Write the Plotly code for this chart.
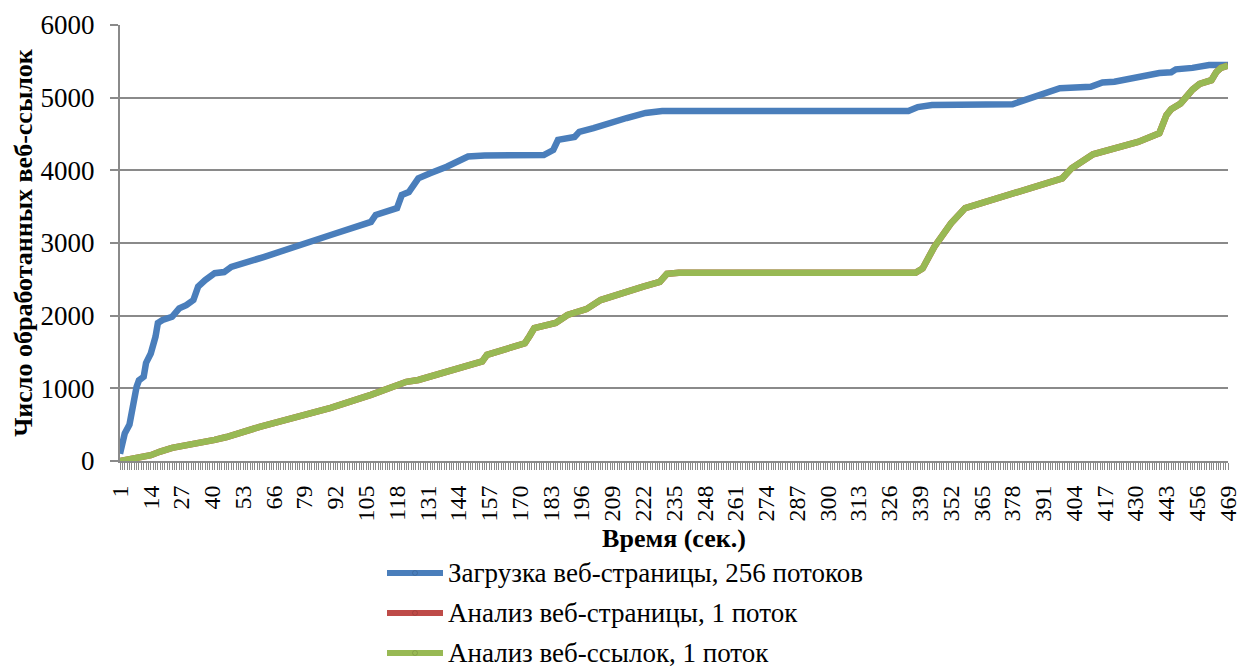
import plotly.graph_objects as go

# Time (s) at which each breakpoint of the curve occurs, and the cumulative
# number of processed web links at that time.
download_t = [1, 3, 5, 6, 8, 9, 11, 12, 14, 16, 17, 19, 23, 26, 29, 32, 34, 37, 41, 45,
              48, 62, 76, 90, 107, 109, 118, 120, 123, 127, 132, 139, 148, 155, 180, 184,
              186, 193, 195, 201, 215, 223, 230, 334, 338, 344, 378, 387, 398, 411, 416,
              421, 424, 432, 440, 445, 447, 454, 461, 469]
download_v = [100, 380, 500, 700, 1020, 1110, 1160, 1350, 1480, 1710, 1900, 1940, 1985,
              2100, 2145, 2215, 2400, 2490, 2585, 2600, 2670, 2810, 2950, 3110, 3290, 3385,
              3480, 3660, 3700, 3890, 3960, 4050, 4190, 4205, 4210, 4280, 4420, 4460, 4530,
              4580, 4720, 4790, 4815, 4815, 4870, 4900, 4910, 5010, 5130, 5150, 5210, 5220,
              5240, 5280, 5340, 5350, 5390, 5410, 5450, 5450]

links_t = [1, 14, 18, 23, 41, 46, 60, 90, 107, 114, 122, 127, 152, 154, 156, 165, 172,
           174, 176, 185, 189, 190, 198, 204, 222, 229, 232, 237, 337, 340, 345, 352, 358,
           376, 378, 399, 403, 410, 412, 431, 435, 440, 443, 445, 449, 452, 454, 457, 462,
           464, 466, 469]
links_v = [0, 80, 130, 180, 290, 330, 470, 730, 910, 1000, 1090, 1115, 1350, 1370, 1460,
           1550, 1620, 1720, 1830, 1900, 1985, 2010, 2090, 2215, 2400, 2465, 2575, 2590,
           2590, 2650, 2950, 3270, 3480, 3660, 3700, 3890, 4030, 4180, 4220, 4390, 4450,
           4510, 4760, 4840, 4920, 5040, 5110, 5190, 5240, 5350, 5410, 5440]

# Page analysis runs in lockstep with link analysis, so its curve coincides.
pages_t = list(links_t)
pages_v = list(links_v)

series_names = ["Загрузка веб-страницы, 256 потоков",
                "Анализ веб-страницы, 1 поток",
                "Анализ веб-ссылок, 1 поток"]
series_colors = ["#4A7EBB", "#BE4B48", "#98B954"]

y_ticks = [0, 1000, 2000, 3000, 4000, 5000, 6000]
x_first, x_last, x_step = 1, 469, 13

FONT = "Liberation Serif"
GRID = "#8A8A8A"

fig = go.Figure()
for t, v, name, color in [(download_t, download_v, series_names[0], series_colors[0]),
                          (pages_t, pages_v, series_names[1], series_colors[1]),
                          (links_t, links_v, series_names[2], series_colors[2])]:
    fig.add_trace(go.Scatter(x=t, y=v, mode="lines", name=name,
                             line=dict(color=color, width=6.5), showlegend=False))

# Legend drawn below the x-axis title: a short line sample with a dot, then the label.
PLOT_L, PLOT_W, PLOT_B, PLOT_H = 120, 1108, 461, 436
legend_rows_px = [573, 613, 653]
x0 = (387 - PLOT_L) / PLOT_W
x1 = (443 - PLOT_L) / PLOT_W
xm = (x0 + x1) / 2
for row_px, name, color in zip(legend_rows_px, series_names, series_colors):
    row = (PLOT_B - row_px) / PLOT_H
    fig.add_shape(type="line", xref="paper", yref="paper", x0=x0, x1=x1, y0=row, y1=row,
                  line=dict(color=color, width=6))
    fig.add_shape(type="circle", xref="paper", yref="paper",
                  xsizemode="pixel", ysizemode="pixel", xanchor=xm, yanchor=row,
                  x0=-2.5, x1=2.5, y0=-2.5, y1=2.5,
                  fillcolor=color, line=dict(color="rgba(0,0,0,0.2)", width=0.6))
    fig.add_annotation(xref="paper", yref="paper", x=(446 - PLOT_L) / PLOT_W, y=row,
                       xanchor="left", yanchor="middle", showarrow=False, text=name,
                       font=dict(family=FONT, size=27, color="black"))

fig.update_layout(
    width=1243, height=668,
    margin=dict(l=PLOT_L, r=1243 - PLOT_L - PLOT_W, t=25, b=207),
    paper_bgcolor="white", plot_bgcolor="white",
    showlegend=False,
    font=dict(family=FONT, color="black"),
    xaxis=dict(
        range=[x_first, x_last], tickmode="linear", tick0=x_first, dtick=x_step,
        tickangle=-90, tickfont=dict(family=FONT, size=24),
        ticks="outside", ticklen=7, tickcolor=GRID, tickwidth=1,
        minor=dict(tickmode="linear", tick0=x_first, dtick=1, ticks="outside",
                   ticklen=7, tickcolor=GRID, tickwidth=1),
        showgrid=False, zeroline=False, showline=True, linecolor=GRID, linewidth=2,
        ticklabelstandoff=6, ticklabeloverflow="allow", automargin=False,
        title=dict(text="<b>Время (сек.)</b>", font=dict(family=FONT, size=26), standoff=8),
    ),
    yaxis=dict(
        range=[0, 6000], tickvals=y_ticks, tickfont=dict(family=FONT, size=27),
        ticks="outside", ticklen=8, tickcolor=GRID, tickwidth=2,
        showgrid=True, gridcolor=GRID, gridwidth=2, zeroline=False,
        showline=True, linecolor=GRID, linewidth=2, ticklabelstandoff=10,
        automargin=False,
        title=dict(text="<b>Число обработанных веб-ссылок</b>",
                   font=dict(family=FONT, size=26), standoff=0),
    ),
)

fig.write_html("out.html")
